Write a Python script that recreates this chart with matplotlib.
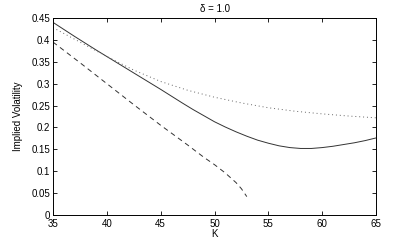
import matplotlib
matplotlib.use("Agg")
import matplotlib.pyplot as plt

K_solid = [35, 37, 39, 41, 43, 45, 47, 48, 49, 50, 51, 52, 53, 54, 55, 56, 57, 58, 59, 60, 61, 62, 63, 64, 65]
solid_vals = [0.440, 0.408, 0.377, 0.347, 0.317, 0.287, 0.256, 0.241, 0.227, 0.213, 0.201, 0.190, 0.180, 0.171, 0.164, 0.158, 0.154, 0.152, 0.152, 0.154, 0.157, 0.161, 0.165, 0.170, 0.176]
K_dot = [35, 37.5, 40, 42.5, 45, 47.5, 50, 52.5, 55, 57.5, 60, 62.5, 65]
dotted_vals = [0.428, 0.395, 0.362, 0.331, 0.305, 0.285, 0.269, 0.256, 0.245, 0.237, 0.231, 0.226, 0.222]
K_dash = [35, 37.5, 40, 42.5, 45, 47.5, 49, 50, 51, 52, 52.5, 53]
dashed_vals = [0.395, 0.348, 0.300, 0.252, 0.205, 0.160, 0.132, 0.115, 0.096, 0.074, 0.060, 0.042]

xticks = [35, 40, 45, 50, 55, 60, 65]
yticks = [0, 0.05, 0.1, 0.15, 0.2, 0.25, 0.3, 0.35, 0.4, 0.45]
yticklabels = ["0", "0.05", "0.1", "0.15", "0.2", "0.25", "0.3", "0.35", "0.4", "0.45"]

plt.rcParams['font.family'] = ['Liberation Sans', 'DejaVu Sans']

fig = plt.figure(figsize=(4.15, 2.42), dpi=100)
ax = fig.add_axes([53/415, 1-215/242, (376-53)/415, (215-18)/242])

ax.plot(K_solid, solid_vals, color='#333333', lw=0.7, ls='-')
ax.plot(K_dot, dotted_vals, color='#666666', lw=0.7, ls=(0, (1, 3)))
ax.plot(K_dash, dashed_vals, color='#333333', lw=0.7, ls=(0, (5, 4)))

ax.set_xlim(35, 65)
ax.set_ylim(0, 0.45)
ax.set_xticks(xticks)
ax.set_xticklabels([str(x) for x in xticks])
ax.set_yticks(yticks)
ax.set_yticklabels(yticklabels)
ax.tick_params(direction='in', top=True, right=True, length=3, width=0.6,
               labelsize=7, pad=2)
ax.tick_params(axis='x', pad=3)
for s in ax.spines.values():
    s.set_linewidth(0.7)
ax.set_title("δ = 1.0", fontsize=7, pad=4)
ax.set_xlabel("K", fontsize=7, labelpad=0)
ax.set_ylabel("Implied Volatility", fontsize=7, labelpad=6)

fig.savefig("out.png", dpi=100)
